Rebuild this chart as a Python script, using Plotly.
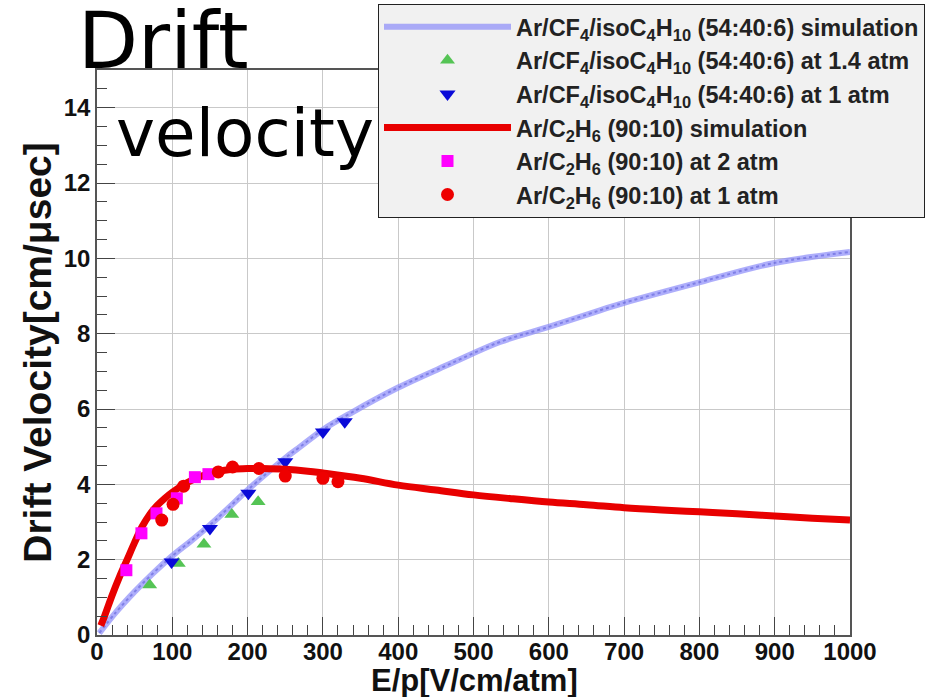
import plotly.graph_objects as go

# ---- data ----
sim_cf4_x = [3, 25, 50, 75, 100, 125, 150, 175, 200, 250, 270, 300, 336, 400, 469, 535, 600, 668, 700, 801, 898, 1000]
sim_cf4_y = [0.05, 0.6, 1.15, 1.65, 2.1, 2.5, 2.92, 3.38, 3.85, 4.7, 5.0, 5.45, 5.88, 6.57, 7.2, 7.78, 8.18, 8.62, 8.82, 9.37, 9.87, 10.17]

cf4_14_x = [70, 108, 142, 179, 214]
cf4_14_y = [1.33, 1.90, 2.41, 3.20, 3.54]

cf4_1_x = [99, 150, 201, 250, 300, 329]
cf4_1_y = [1.94, 2.83, 3.76, 4.60, 5.39, 5.66]

sim_c2h6_x = [5, 10, 20, 30, 40, 50, 60, 70, 80, 90, 100, 120, 140, 160, 180, 200, 220, 250, 280, 300, 350, 400,
              450, 500, 550, 600, 650, 700, 750, 800, 850, 900, 950, 1000]
sim_c2h6_y = [0.25, 0.5, 1.05, 1.55, 2.0, 2.46, 2.88, 3.2, 3.44, 3.63, 3.79, 4.05, 4.23, 4.34, 4.40, 4.42, 4.42, 4.40,
              4.35, 4.30, 4.16, 3.98, 3.85, 3.72, 3.62, 3.53, 3.46, 3.38, 3.32, 3.27, 3.22, 3.16, 3.10, 3.05]

c2h6_2_x = [39, 59, 79, 106, 130, 148]
c2h6_2_y = [1.72, 2.70, 3.23, 3.63, 4.19, 4.27]

c2h6_1_x = [86, 101, 115, 161, 180, 215, 250, 300, 320]
c2h6_1_y = [3.05, 3.47, 3.95, 4.33, 4.46, 4.42, 4.22, 4.16, 4.07]

names = [
    "Ar/CF<sub>4</sub>/isoC<sub>4</sub>H<sub>10</sub> (54:40:6) simulation",
    "Ar/CF<sub>4</sub>/isoC<sub>4</sub>H<sub>10</sub> (54:40:6) at 1.4 atm",
    "Ar/CF<sub>4</sub>/isoC<sub>4</sub>H<sub>10</sub> (54:40:6) at 1 atm",
    "Ar/C<sub>2</sub>H<sub>6</sub> (90:10) simulation",
    "Ar/C<sub>2</sub>H<sub>6</sub> (90:10) at 2 atm",
    "Ar/C<sub>2</sub>H<sub>6</sub> (90:10) at 1 atm",
]

x_ticks = list(range(0, 1001, 100))
y_ticks = list(range(0, 15, 2))

W, H = 931, 697
ML, MR, MT, MB = 97, 81, 70, 62
PW, PH = W - ML - MR, H - MT - MB


def px(xp):
    return (xp - ML) / PW


def py(yp):
    return (H - MB - yp) / PH


fig = go.Figure()

fig.add_trace(go.Scatter(x=sim_cf4_x, y=sim_cf4_y, mode="lines", name=names[0], legendgroup="g0",
                         line=dict(color="rgba(140,140,250,0.7)", width=6, shape="spline")))
fig.add_trace(go.Scatter(x=sim_cf4_x, y=sim_cf4_y, mode="lines", showlegend=False, hoverinfo="skip",
                         line=dict(color="rgba(80,80,210,0.5)", width=2, dash="dot", shape="spline")))
fig.add_trace(go.Scatter(x=cf4_14_x, y=cf4_14_y, mode="markers", name=names[1], legendgroup="g1",
                         marker=dict(symbol="triangle-up", size=13, color="#55c455")))
fig.add_trace(go.Scatter(x=cf4_1_x, y=cf4_1_y, mode="markers", name=names[2], legendgroup="g2",
                         marker=dict(symbol="triangle-down", size=14, color="#0a0ad8")))
fig.add_trace(go.Scatter(x=sim_c2h6_x, y=sim_c2h6_y, mode="lines", name=names[3], legendgroup="g3",
                         line=dict(color="#e80000", width=7, shape="spline")))
fig.add_trace(go.Scatter(x=c2h6_2_x, y=c2h6_2_y, mode="markers", name=names[4], legendgroup="g4",
                         marker=dict(symbol="square", size=12, color="#ff00ff")))
fig.add_trace(go.Scatter(x=c2h6_1_x, y=c2h6_1_y, mode="markers", name=names[5], legendgroup="g5",
                         marker=dict(symbol="circle", size=13, color="#ee0000")))

tickfont = dict(family="Liberation Sans, Arial", size=24, color="#111111", weight="bold")

fig.update_layout(
    width=W, height=H,
    margin=dict(l=ML, r=MR, t=MT, b=MB, autoexpand=False),
    paper_bgcolor="white", plot_bgcolor="white",
    showlegend=True,
    legend=dict(
        x=px(378), y=py(4), xanchor="left", yanchor="top",
        bgcolor="#f1f1f1", bordercolor="#222222", borderwidth=1,
        font=dict(family="Liberation Sans, Arial", size=23.5, color="#222222", weight="bold"),
        traceorder="grouped", tracegroupgap=0, itemwidth=127,
    ),
    xaxis=dict(
        range=[0, 1000], tickvals=x_ticks, ticks="inside", ticklen=18, tickwidth=1, tickcolor="#444",
        minor=dict(ticks="inside", ticklen=10, dtick=20, tickcolor="#444", showgrid=False),
        showgrid=True, gridcolor="#c9c9c9", gridwidth=1,
        showline=True, linecolor="#555", linewidth=1.5, mirror=True,
        zeroline=False, tickfont=tickfont, ticklabelstandoff=-6,
    ),
    yaxis=dict(
        range=[0, 15], tickvals=y_ticks, ticks="inside", ticklen=18, tickwidth=1, tickcolor="#444",
        minor=dict(ticks="inside", ticklen=10, dtick=0.5, tickcolor="#444", showgrid=False),
        showgrid=True, gridcolor="#c9c9c9", gridwidth=1,
        showline=True, linecolor="#555", linewidth=1.5, mirror=True,
        zeroline=False, tickfont=tickfont,
        title=dict(text="Drift Velocity[cm/\u03bcsec]", standoff=0,
                   font=dict(family="Liberation Sans, Arial", size=39, color="#111", weight="bold")),
    ),
    shapes=[
        dict(type="rect", xref="paper", yref="paper", x0=px(380), x1=px(922), y0=py(218), y1=py(214),
             line=dict(width=0), fillcolor="#111111", layer="above"),
    ],
    annotations=[
        dict(text="Drift", xref="paper", yref="paper", x=px(76), y=py(88), xanchor="left", yanchor="bottom",
             showarrow=False, font=dict(family="Comic Sans MS, DejaVu Sans", size=78, color="black")),
        dict(text="velocity", xref="paper", yref="paper", x=px(114), y=py(174), xanchor="left", yanchor="bottom",
             showarrow=False, font=dict(family="Comic Sans MS, DejaVu Sans", size=66, color="black")),
        dict(text="E/p[V/cm/atm]", xref="paper", yref="paper", x=px(474), y=py(680), xanchor="center",
             yanchor="middle", showarrow=False,
             font=dict(family="Liberation Sans, Arial", size=31, color="#111", weight="bold")),
    ],
)

fig.write_html("out.html")
